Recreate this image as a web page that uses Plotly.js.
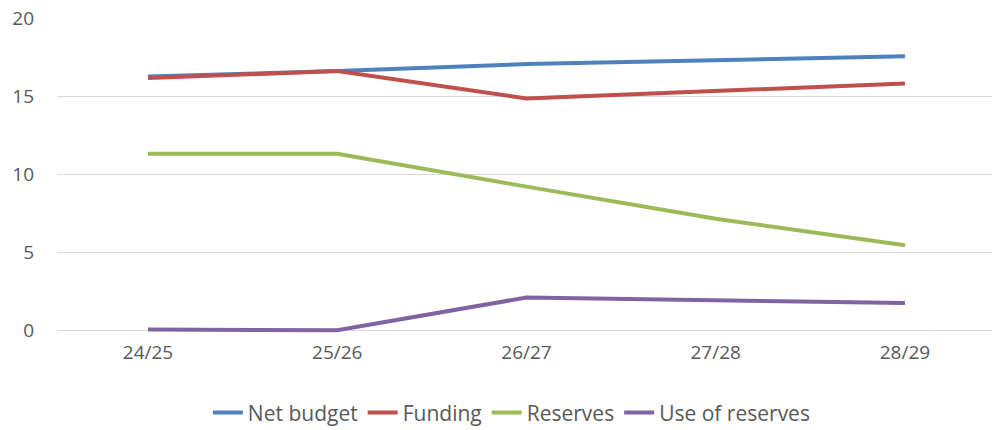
<!DOCTYPE html>
<html><head><meta charset="utf-8">
<script src="https://cdn.plot.ly/plotly-3.0.1.min.js"></script>
<style>html,body{margin:0;padding:0;background:#fff}#chart{width:992px;height:430px}</style>
</head><body><div id="chart"></div>
<script>
const categories = ["24/25", "25/26", "26/27", "27/28", "28/29"];
const netBudget = [16.25, 16.6, 17.05, 17.3, 17.55];
const funding = [16.15, 16.6, 14.85, 15.3, 15.8];
const reserves = [11.3, 11.3, 9.2, 7.15, 5.45];
const useOfReserves = [0.05, 0.0, 2.1, 1.95, 1.75];
const seriesNames = ["Net budget", "Funding", "Reserves", "Use of reserves"];
const colors = ["#4F81BD", "#C0504D", "#9BBB59", "#8064A2"];
const yTicks = [0, 5, 10, 15, 20];

const allSeries = [netBudget, funding, reserves, useOfReserves];
const traces = allSeries.map((vals, i) => ({
  type: "scatter", mode: "lines", name: seriesNames[i],
  x: categories, y: vals,
  line: {color: colors[i], width: 4}
}));
const font = "'Open Sans', Lato, sans-serif";
const layout = {
  width: 992, height: 430,
  margin: {l: 57, r: 0, t: 18, b: 95},
  paper_bgcolor: "#fff", plot_bgcolor: "#fff",
  font: {family: font, size: 19, color: "#595959"},
  showlegend: true,
  legend: {orientation: "h", xref: "container", yref: "container", x: 0.516, xanchor: "center", y: 0.04, yanchor: "middle", font: {size: 21, color: "#595959"}, itemwidth: 30, tracegroupgap: 0},
  xaxis: {type: "category", range: [-0.481, 4.46], showgrid: false, zeroline: false, showline: false, ticks: "", ticklabelstandoff: 4, fixedrange: true},
  yaxis: {range: [-0.3, 20], tickvals: yTicks, ticktext: yTicks.map(String), showgrid: true, gridcolor: "#D9D9D9", gridwidth: 1, zeroline: false, showline: false, ticks: "", ticklabelstandoff: 22, fixedrange: true}
};
Plotly.newPlot("chart", traces, layout, {displayModeBar: false, staticPlot: true});
</script></body></html>
